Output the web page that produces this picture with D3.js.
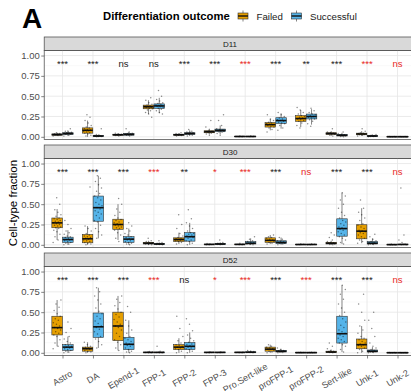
<!DOCTYPE html>
<html>
<head>
<meta charset="utf-8">
<script src="https://cdn.jsdelivr.net/npm/d3@7/dist/d3.min.js"></script>
<style>
body { margin: 0; background: #fff; }
text { font-family: "Liberation Sans", Arial, sans-serif; }
</style>
</head>
<body>
<svg id="chart" width="411" height="391"></svg>
<script>
var categories = ["Astro", "DA", "Epend-1", "FPP-1", "FPP-2", "FPP-3", "Pro.Sert-like",
  "proFPP-1", "proFPP-2", "Sert-like", "Unk-1", "Unk-2"];
var days = ["D11", "D30", "D52"];
var outcomes = ["Failed", "Successful"];
var outcomeColors = ["#E69F00", "#56B4E9"];
var yTicks = [0, 0.25, 0.5, 0.75, 1];

// box stats per category: [lower whisker, q1, median, q3, upper whisker]
var boxD11Failed = [[0.01,0.02,0.028,0.035,0.05],[0,0.045,0.08,0.11,0.2],[0.01,0.02,0.025,0.032,0.045],
  [0.28,0.345,0.37,0.39,0.45],[0.01,0.02,0.025,0.032,0.045],[0.03,0.05,0.062,0.075,0.1],
  [0,0.002,0.004,0.007,0.012],[0.08,0.12,0.15,0.175,0.22],[0.12,0.19,0.225,0.26,0.33],
  [0.01,0.03,0.04,0.05,0.07],[0.01,0.025,0.035,0.045,0.07],[0,0.001,0.002,0.004,0.006]];
var boxD11Successful = [[0.01,0.03,0.04,0.05,0.08],[0,0.005,0.01,0.015,0.03],[0.01,0.02,0.03,0.04,0.06],
  [0.29,0.35,0.38,0.405,0.48],[0.01,0.03,0.04,0.05,0.08],[0.03,0.065,0.08,0.095,0.14],
  [0,0.002,0.004,0.007,0.012],[0.1,0.165,0.2,0.235,0.29],[0.15,0.22,0.25,0.28,0.34],
  [0,0.01,0.02,0.03,0.05],[0,0.005,0.01,0.015,0.03],[0,0.001,0.002,0.004,0.006]];
var boxD30Failed = [[0.06,0.21,0.27,0.33,0.44],[0,0.025,0.074,0.127,0.23],[0.06,0.19,0.25,0.315,0.5],
  [0,0.01,0.02,0.03,0.05],[0.01,0.04,0.065,0.086,0.15],[0,0.002,0.005,0.008,0.015],
  [0,0.002,0.005,0.008,0.015],[0.01,0.03,0.055,0.086,0.12],[0,0.002,0.004,0.007,0.012],
  [0,0.01,0.02,0.03,0.05],[0.02,0.074,0.168,0.247,0.45],[0,0.001,0.003,0.005,0.008]];
var boxD30Successful = [[0,0.03,0.065,0.094,0.18],[0.08,0.29,0.457,0.6,0.85],[0,0.03,0.07,0.1,0.2],
  [0,0.005,0.01,0.015,0.03],[0,0.045,0.1,0.15,0.27],[0,0.004,0.01,0.015,0.03],
  [0,0.01,0.02,0.04,0.08],[0,0.015,0.03,0.05,0.09],[0,0.002,0.004,0.007,0.012],
  [0.01,0.106,0.2,0.32,0.64],[0,0.01,0.02,0.04,0.08],[0,0.002,0.004,0.008,0.015]];
var boxD52Failed = [[0.08,0.22,0.31,0.45,0.65],[0,0.02,0.05,0.07,0.13],[0.03,0.15,0.33,0.5,0.7],
  [0,0.002,0.005,0.008,0.015],[0,0.04,0.07,0.1,0.18],[0,0.002,0.005,0.008,0.015],
  [0,0.002,0.005,0.008,0.015],[0,0.02,0.045,0.07,0.1],[0,0.001,0.003,0.005,0.008],
  [0,0.005,0.01,0.02,0.04],[0,0.05,0.1,0.17,0.33],[0,0.001,0.002,0.004,0.006]];
var boxD52Successful = [[0,0.03,0.07,0.1,0.2],[0.06,0.19,0.32,0.49,0.8],[0,0.04,0.105,0.19,0.4],
  [0,0.002,0.005,0.008,0.015],[0,0.04,0.08,0.127,0.25],[0,0.002,0.005,0.008,0.015],
  [0,0.003,0.007,0.012,0.025],[0,0.01,0.02,0.03,0.05],[0,0.001,0.003,0.005,0.008],
  [0.01,0.12,0.235,0.45,0.83],[0,0.01,0.02,0.035,0.07],[0,0.001,0.002,0.004,0.006]];

// individual sample fractions (jittered dots)
var ptsD11Failed = [
  [0.01,0.015,0.02,0.022,0.025,0.027,0.028,0.03,0.032,0.035,0.038,0.042,0.05],
  [0.01,0.02,0.035,0.045,0.05,0.06,0.07,0.075,0.08,0.085,0.09,0.1,0.11,0.12,0.14,0.17,0.2,0.24,0.27],
  [0.01,0.015,0.02,0.022,0.025,0.027,0.03,0.032,0.036,0.045],
  [0.24,0.28,0.3,0.32,0.33,0.345,0.35,0.36,0.365,0.37,0.375,0.38,0.39,0.4,0.42,0.45,0.48],
  [0.01,0.015,0.02,0.022,0.025,0.027,0.03,0.034,0.04,0.05],
  [0.02,0.035,0.045,0.05,0.055,0.06,0.065,0.07,0.08,0.12,0.2],
  [0,0.002,0.003,0.004,0.005,0.007,0.01],
  [0.06,0.09,0.11,0.12,0.13,0.14,0.15,0.155,0.16,0.17,0.18,0.2,0.22,0.27],
  [0.11,0.14,0.17,0.19,0.2,0.21,0.22,0.23,0.24,0.25,0.26,0.28,0.3,0.33,0.36],
  [0.01,0.02,0.03,0.035,0.04,0.045,0.05,0.06,0.1],
  [0.01,0.02,0.025,0.03,0.035,0.04,0.045,0.05,0.07,0.1],
  [0,0.001,0.002,0.003,0.005]];
var ptsD11Successful = [
  [0.01,0.02,0.03,0.035,0.04,0.042,0.045,0.05,0.055,0.06,0.07,0.1],
  [0,0.003,0.005,0.008,0.01,0.012,0.015,0.02,0.03,0.1],
  [0.01,0.02,0.025,0.03,0.032,0.035,0.04,0.045,0.06,0.1],
  [0.28,0.3,0.32,0.34,0.35,0.36,0.37,0.375,0.38,0.385,0.39,0.4,0.41,0.42,0.44,0.46,0.5,0.57],
  [0.01,0.02,0.03,0.035,0.04,0.045,0.05,0.055,0.06,0.07,0.09],
  [0.02,0.04,0.055,0.06,0.065,0.07,0.075,0.08,0.09,0.1,0.14,0.2,0.27],
  [0,0.002,0.003,0.004,0.005,0.007,0.01],
  [0.08,0.11,0.14,0.16,0.17,0.18,0.19,0.2,0.21,0.22,0.23,0.25,0.27,0.3],
  [0.13,0.16,0.19,0.21,0.22,0.23,0.24,0.25,0.26,0.27,0.28,0.3,0.32,0.35],
  [0,0.005,0.01,0.015,0.02,0.025,0.03,0.04,0.06],
  [0,0.003,0.005,0.008,0.01,0.012,0.015,0.02,0.03],
  [0,0.001,0.002,0.003,0.005]];
var ptsD30Failed = [
  [0.03,0.06,0.1,0.13,0.16,0.18,0.2,0.21,0.22,0.23,0.24,0.25,0.26,0.27,0.28,0.29,0.3,0.31,0.32,0.33,0.35,0.37,0.4,0.43,0.5,0.58],
  [0,0.01,0.02,0.03,0.04,0.05,0.06,0.07,0.08,0.09,0.1,0.11,0.12,0.14,0.17,0.2,0.23,0.71],
  [0.04,0.08,0.12,0.15,0.18,0.2,0.21,0.22,0.23,0.24,0.25,0.26,0.27,0.28,0.3,0.31,0.33,0.36,0.4,0.44,0.5,0.57],
  [0,0.005,0.01,0.015,0.02,0.025,0.03,0.04,0.05,0.08],
  [0.01,0.03,0.04,0.05,0.055,0.06,0.065,0.07,0.075,0.08,0.09,0.11,0.14,0.2,0.25,0.37],
  [0,0.002,0.004,0.005,0.007,0.01,0.015],
  [0,0.002,0.004,0.005,0.007,0.01,0.02],
  [0.01,0.02,0.03,0.04,0.05,0.055,0.06,0.07,0.08,0.09,0.1,0.12],
  [0,0.002,0.003,0.004,0.006,0.01],
  [0,0.005,0.01,0.015,0.02,0.025,0.03,0.04,0.06,0.09,0.12,0.15],
  [0.02,0.04,0.06,0.08,0.1,0.12,0.14,0.15,0.16,0.17,0.18,0.2,0.22,0.24,0.26,0.3,0.33,0.37,0.4,0.45,0.55],
  [0,0.001,0.002,0.003,0.005,0.01]];
var ptsD30Successful = [
  [0,0.01,0.02,0.03,0.04,0.05,0.06,0.065,0.07,0.08,0.09,0.1,0.11,0.13,0.15,0.17,0.2,0.25,0.3],
  [0.08,0.12,0.16,0.2,0.24,0.28,0.3,0.33,0.36,0.38,0.4,0.42,0.44,0.46,0.48,0.5,0.52,0.55,0.58,0.6,0.63,0.66,0.7,0.74,0.78,0.82,0.85],
  [0,0.01,0.02,0.03,0.04,0.05,0.06,0.07,0.08,0.09,0.1,0.12,0.14,0.17,0.2,0.23,0.27],
  [0,0.003,0.005,0.008,0.01,0.012,0.015,0.02,0.03,0.05],
  [0,0.02,0.04,0.05,0.06,0.08,0.09,0.1,0.11,0.12,0.13,0.14,0.15,0.17,0.2,0.23,0.27,0.32,0.43],
  [0,0.003,0.005,0.008,0.01,0.015,0.02,0.03,0.06],
  [0,0.005,0.01,0.015,0.02,0.025,0.03,0.04,0.05,0.07,0.1],
  [0,0.01,0.015,0.02,0.025,0.03,0.035,0.04,0.05,0.07,0.09],
  [0,0.002,0.003,0.004,0.006,0.01],
  [0.01,0.03,0.06,0.08,0.1,0.12,0.14,0.16,0.18,0.19,0.2,0.21,0.22,0.24,0.26,0.28,0.3,0.33,0.36,0.4,0.45,0.5,0.55,0.6,0.64],
  [0,0.005,0.01,0.015,0.02,0.025,0.03,0.04,0.05,0.07,0.1,0.13],
  [0,0.002,0.004,0.006,0.01,0.03,0.06,0.12,0.7]];
var ptsD52Failed = [
  [0.05,0.08,0.12,0.16,0.2,0.22,0.24,0.26,0.28,0.3,0.31,0.33,0.35,0.37,0.4,0.42,0.45,0.48,0.52,0.56,0.6,0.65],
  [0,0.01,0.02,0.03,0.04,0.05,0.055,0.06,0.07,0.08,0.1,0.13],
  [0.03,0.06,0.1,0.13,0.16,0.2,0.24,0.28,0.31,0.33,0.35,0.38,0.41,0.44,0.47,0.5,0.54,0.58,0.62,0.66,0.7],
  [0,0.002,0.004,0.005,0.007,0.01,0.015],
  [0,0.02,0.04,0.05,0.06,0.07,0.08,0.09,0.1,0.12,0.15,0.2,0.3,0.45],
  [0,0.002,0.004,0.005,0.007,0.01],
  [0,0.002,0.004,0.005,0.007,0.01],
  [0,0.01,0.02,0.03,0.04,0.045,0.05,0.06,0.07,0.08,0.1],
  [0,0.001,0.002,0.003,0.005,0.008],
  [0,0.003,0.006,0.01,0.015,0.02,0.03,0.05,0.08,0.12],
  [0,0.02,0.04,0.06,0.08,0.09,0.1,0.11,0.12,0.14,0.16,0.18,0.2,0.24,0.28,0.33,0.4,0.5,0.6,0.72],
  [0,0.001,0.002,0.003,0.005]];
var ptsD52Successful = [
  [0,0.01,0.02,0.03,0.04,0.05,0.06,0.07,0.08,0.09,0.1,0.12,0.14,0.17,0.2,0.25,0.3,0.38],
  [0.06,0.1,0.14,0.17,0.2,0.23,0.26,0.29,0.31,0.33,0.36,0.39,0.42,0.45,0.48,0.51,0.55,0.6,0.65,0.7,0.75,0.8],
  [0,0.01,0.02,0.04,0.06,0.08,0.09,0.1,0.11,0.12,0.14,0.16,0.18,0.2,0.24,0.28,0.33,0.4,0.5,0.57],
  [0,0.002,0.004,0.005,0.007,0.01,0.02,0.08],
  [0,0.02,0.04,0.05,0.06,0.07,0.08,0.09,0.1,0.11,0.13,0.15,0.18,0.22,0.27,0.35,0.42],
  [0,0.002,0.004,0.005,0.007,0.01],
  [0,0.003,0.005,0.008,0.01,0.015,0.02,0.03],
  [0,0.005,0.01,0.015,0.02,0.025,0.03,0.04,0.06],
  [0,0.001,0.002,0.003,0.005,0.008],
  [0.01,0.04,0.08,0.1,0.12,0.14,0.16,0.18,0.2,0.22,0.24,0.26,0.28,0.31,0.34,0.38,0.42,0.46,0.5,0.55,0.6,0.66,0.72,0.78,0.83],
  [0,0.005,0.01,0.015,0.02,0.025,0.03,0.04,0.06,0.08,0.12,0.2,0.3,0.4,0.5],
  [0,0.001,0.002,0.003,0.005]];

// significance labels, red = flagged comparison
var sigD11 = ["***","***","ns","ns","***","***","***","***","**","***","***","ns"];
var redD11 = [0,0,0,0,0,0,1,0,0,0,1,1];
var sigD30 = ["***","***","***","***","**","*","***","***","ns","***","***","ns"];
var redD30 = [0,0,0,1,0,1,1,0,1,0,0,1];
var sigD52 = ["***","***","***","***","ns","*","***","***","***","***","***","ns"];
var redD52 = [0,0,0,1,0,1,1,0,1,0,0,1];

var panels = [
  { day: "D11", box: [boxD11Failed, boxD11Successful], pts: [ptsD11Failed, ptsD11Successful], sig: sigD11, red: redD11 },
  { day: "D30", box: [boxD30Failed, boxD30Successful], pts: [ptsD30Failed, ptsD30Successful], sig: sigD30, red: redD30 },
  { day: "D52", box: [boxD52Failed, boxD52Successful], pts: [ptsD52Failed, ptsD52Successful], sig: sigD52, red: redD52 }
];

var svg = d3.select("#chart");
var x = d3.scalePoint().domain(categories).range([62.5, 397.5]);
var step = x.step();
var panelLeft = x(categories[0]) - 0.6 * step,
  panelRight = x(categories[categories.length - 1]) + 0.6 * step;
var stripH = 13.5, panelH = 89, firstTop = 37, rowGap = 108;
var boxW = 10.5, dodge = 5.4;
var color = d3.scaleOrdinal().domain(outcomes).range(outcomeColors);

// title + legend
svg.append("text").attr("x", 22).attr("y", 27.5)
  .style("font-size", "28px").style("font-weight", "bold").text("A");
svg.append("text").attr("x", 103).attr("y", 19.5)
  .style("font-size", "11.3px").style("font-weight", "bold").text("Differentiation outcome");
var legendX = [243, 296.5];
outcomes.forEach(function (o, i) {
  var k = svg.append("g").attr("transform", "translate(" + legendX[i] + ",16)");
  k.append("line").attr("y1", -5.5).attr("y2", 5.5).attr("stroke", "#333").attr("stroke-width", 0.6);
  k.append("rect").attr("x", -5).attr("y", -3).attr("width", 10).attr("height", 6)
    .attr("fill", color(o)).attr("stroke", "#333").attr("stroke-width", 0.6);
  k.append("line").attr("x1", -5).attr("x2", 5).attr("stroke", "#111").attr("stroke-width", 1.4);
  svg.append("text").attr("x", legendX[i] + 13.5).attr("y", 19.5)
    .style("font-size", "9.7px").attr("fill", "#1a1a1a").text(o);
});

svg.append("text")
  .attr("transform", "translate(16.5," + (firstTop + stripH + (2 * rowGap + panelH) / 2) + ")rotate(-90)")
  .attr("text-anchor", "middle").style("font-size", "11.5px").text("Cell-type fraction");

panels.forEach(function (p, pi) {
  var top = firstTop + pi * rowGap;
  var pTop = top + stripH, pBot = pTop + panelH;
  var y = d3.scaleLinear().domain([-0.033, 1.062]).range([pBot, pTop]);
  var g = svg.append("g");

  // strip
  g.append("rect").attr("x", panelLeft).attr("y", top).attr("width", panelRight - panelLeft)
    .attr("height", stripH).attr("fill", "#d9d9d9").attr("stroke", "#555").attr("stroke-width", 0.8);
  g.append("text").attr("x", (panelLeft + panelRight) / 2).attr("y", top + stripH / 2 + 2.8)
    .attr("text-anchor", "middle").style("font-size", "8px").attr("fill", "#1a1a1a").text(p.day);

  // grid
  var minor = d3.range(4).map(function (i) { return 0.125 + i * 0.25; });
  g.selectAll(".minor").data(minor).enter().append("line")
    .attr("x1", panelLeft).attr("x2", panelRight)
    .attr("y1", function (d) { return y(d); }).attr("y2", function (d) { return y(d); })
    .attr("stroke", "#f2f2f2").attr("stroke-width", 0.5);
  g.selectAll(".major").data(yTicks).enter().append("line")
    .attr("x1", panelLeft).attr("x2", panelRight)
    .attr("y1", function (d) { return y(d); }).attr("y2", function (d) { return y(d); })
    .attr("stroke", "#e6e6e6").attr("stroke-width", 0.8);
  g.selectAll(".vgrid").data(categories).enter().append("line")
    .attr("x1", function (d) { return x(d); }).attr("x2", function (d) { return x(d); })
    .attr("y1", pTop).attr("y2", pBot)
    .attr("stroke", "#e6e6e6").attr("stroke-width", 0.8);

  // boxes
  outcomes.forEach(function (o, oi) {
    var off = oi === 0 ? -dodge : dodge;
    var bg = g.selectAll(".b" + oi).data(p.box[oi]).enter().append("g")
      .attr("transform", function (d, i) { return "translate(" + (x(categories[i]) + off) + ",0)"; });
    bg.append("line").attr("y1", function (d) { return y(d[0]); }).attr("y2", function (d) { return y(d[4]); })
      .attr("stroke", "#333").attr("stroke-width", 0.6);
    bg.append("rect").attr("x", -boxW / 2).attr("width", boxW)
      .attr("y", function (d) { return y(d[3]); })
      .attr("height", function (d) { return Math.max(0.5, y(d[1]) - y(d[3])); })
      .attr("fill", color(o)).attr("stroke", "#333").attr("stroke-width", 0.6);
    bg.append("line").attr("x1", -boxW / 2).attr("x2", boxW / 2)
      .attr("y1", function (d) { return y(d[2]); }).attr("y2", function (d) { return y(d[2]); })
      .attr("stroke", "#111").attr("stroke-width", 1.6);
  });

  // jittered points
  outcomes.forEach(function (o, oi) {
    var off = oi === 0 ? -dodge : dodge;
    p.pts[oi].forEach(function (vals, ci) {
      g.selectAll(null).data(vals).enter().append("circle")
        .attr("cx", function (d, j) { return x(categories[ci]) + off + (((j * 0.618034 + ci * 0.3) % 1) - 0.5) * 8; })
        .attr("cy", function (d) { return y(d); })
        .attr("r", 0.75).attr("fill", "#000").attr("fill-opacity", 0.45);
    });
  });

  // significance labels
  g.selectAll(".sig").data(p.sig).enter().append("text")
    .attr("x", function (d, i) { return x(categories[i]); })
    .attr("y", y(0.865))
    .attr("text-anchor", "middle").style("font-size", "9.5px")
    .attr("fill", function (d, i) { return p.red[i] ? "#e8281e" : "#1a1a1a"; })
    .text(function (d) { return d; });

  // border
  g.append("rect").attr("x", panelLeft).attr("y", pTop).attr("width", panelRight - panelLeft)
    .attr("height", panelH).attr("fill", "none").attr("stroke", "#555").attr("stroke-width", 0.8);

  // y axis
  var ya = g.append("g").attr("transform", "translate(" + panelLeft + ",0)")
    .call(d3.axisLeft(y).tickValues(yTicks).tickFormat(d3.format(".2f")).tickSize(3).tickPadding(1.5));
  ya.select(".domain").remove();
  ya.selectAll("line").attr("stroke", "#333").attr("stroke-width", 0.6);
  ya.selectAll("text").style("font-size", "9.5px").attr("fill", "#4d4d4d")
    .style("font-family", "'Liberation Sans', Arial, sans-serif");

  if (pi === panels.length - 1) {
    var xa = g.append("g").attr("transform", "translate(0," + pBot + ")")
      .call(d3.axisBottom(x).tickSize(3).tickFormat(""));
    xa.select(".domain").remove();
    xa.selectAll("line").attr("stroke", "#333").attr("stroke-width", 0.6);
    g.selectAll(".xlab").data(categories).enter().append("text")
      .attr("transform", function (d) { return "translate(" + x(d) + "," + (pBot + 22.5) + ")rotate(-30)"; })
      .attr("text-anchor", "middle").attr("dy", "0.35em")
      .style("font-size", "9px").attr("fill", "#4d4d4d").text(function (d) { return d; });
  }
});
</script>
</body>
</html>
